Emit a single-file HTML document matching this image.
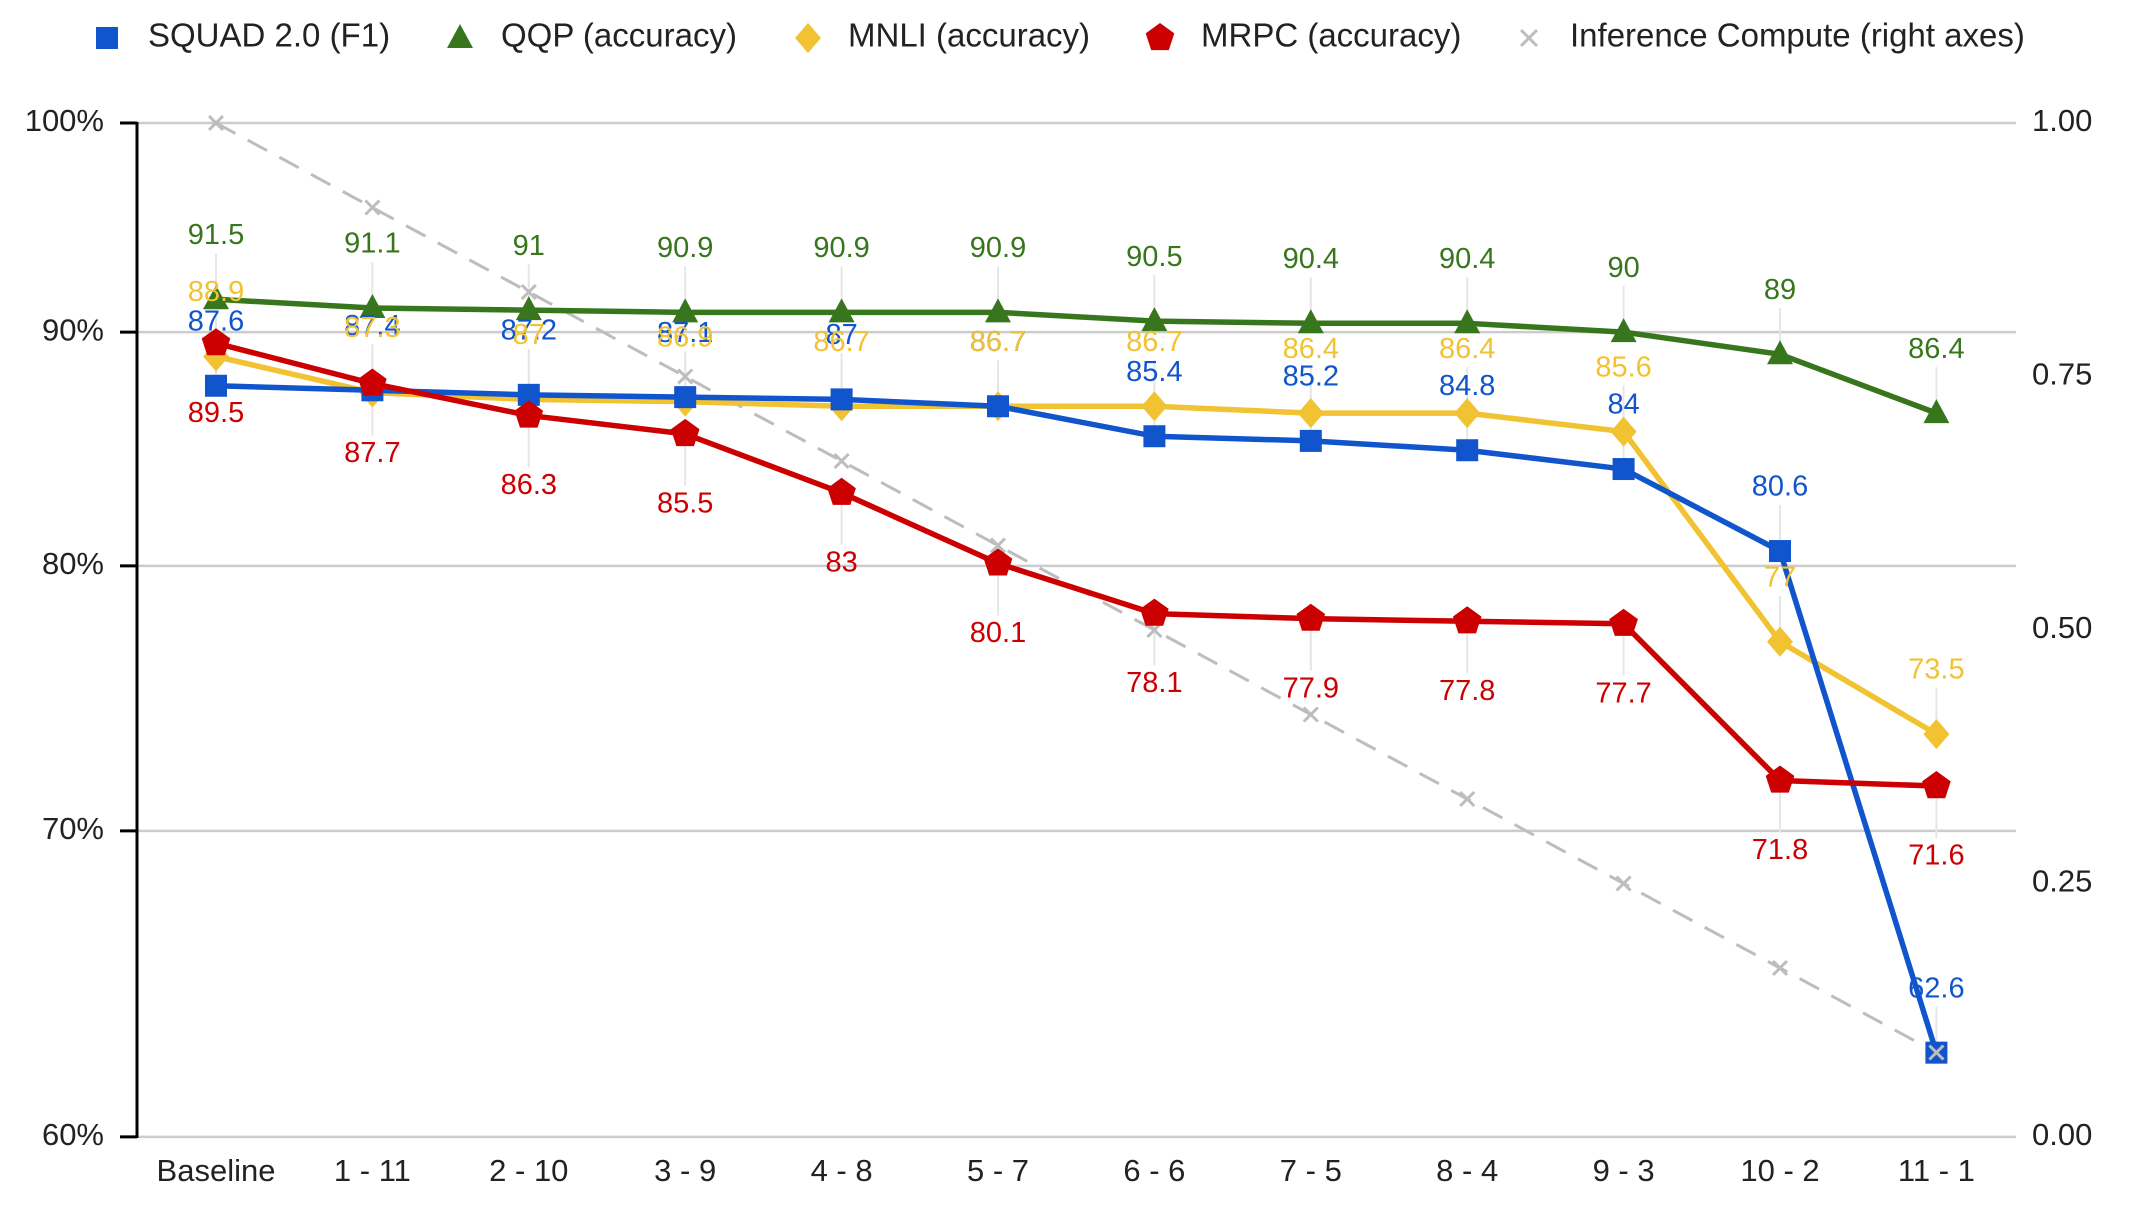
<!DOCTYPE html>
<html><head><meta charset="utf-8"><style>
html,body{margin:0;padding:0;background:#fff;}
svg{display:block;font-family:"Liberation Sans",Arial,sans-serif;}
</style></head><body>
<svg id="c" width="2134" height="1214" viewBox="0 0 2134 1214" xmlns="http://www.w3.org/2000/svg"></svg>
<script>
const S=document.getElementById('c');let h='';
const X0=216,DX=156.4;
const yL=v=>123+4570*Math.log10(100/v);
const yR=v=>1137-v*1014;
[[100,'100%'],[90,'90%'],[80,'80%'],[70,'70%'],[60,'60%']].forEach(([v,t])=>{const y=yL(v);
h+=`<line x1="137" x2="2016" y1="${y}" y2="${y}" stroke="#cccccc" stroke-width="2.5"/>`;
h+=`<line x1="120" x2="137" y1="${y}" y2="${y}" stroke="#000" stroke-width="3"/>`;
h+=`<text x="104" y="${y}" font-size="31" text-anchor="end" dominant-baseline="middle" fill="#222">${t}</text>`;});
h+=`<line x1="137" x2="137" y1="122" y2="1138" stroke="#000" stroke-width="3"/>`;
[[1,'1.00'],[.75,'0.75'],[.5,'0.50'],[.25,'0.25'],[0,'0.00']].forEach(([v,t])=>{
h+=`<text x="2032" y="${yR(v)}" font-size="31" dominant-baseline="middle" fill="#222">${t}</text>`;});
const cats=['Baseline','1 - 11','2 - 10','3 - 9','4 - 8','5 - 7','6 - 6','7 - 5','8 - 4','9 - 3','10 - 2','11 - 1'];
cats.forEach((c,i)=>{h+=`<text x="${X0+i*DX}" y="1173" font-size="31" text-anchor="middle" dominant-baseline="middle" fill="#222">${c}</text>`;});
const ser=[
 {c:'#f1c232',m:'d',d:[88.9,87.3,87.0,86.9,86.7,86.7,86.7,86.4,86.4,85.6,77,73.5],pos:-1},
 {c:'#1155cc',m:'s',d:[87.6,87.4,87.2,87.1,87,86.7,85.4,85.2,84.8,84,80.6,62.6],pos:-1},
 {c:'#38761d',m:'t',d:[91.5,91.1,91,90.9,90.9,90.9,90.5,90.4,90.4,90,89,86.4],pos:-1},
 {c:'#cc0000',m:'p',d:[89.5,87.7,86.3,85.5,83,80.1,78.1,77.9,77.8,77.7,71.8,71.6],pos:1},
];
ser.forEach(s=>s.d.forEach((v,i)=>{const x=X0+i*DX,y=yL(v);const y2=s.pos<0?y-46:y+52;
h+=`<line x1="${x}" x2="${x}" y1="${y}" y2="${y2}" stroke="#e6e6e6" stroke-width="2"/>`;}));
let cp=[];for(let i=0;i<12;i++)cp.push([X0+i*DX,yR(1-i/12)]);
h+=`<polyline points="${cp.map(p=>p.join(',')).join(' ')}" fill="none" stroke="#bdbdbd" stroke-width="3" stroke-dasharray="22,14"/>`;
cp.forEach(([x,y])=>{h+=`<path d="M${x-7},${y-7}L${x+7},${y+7}M${x+7},${y-7}L${x-7},${y+7}" stroke="#bdbdbd" stroke-width="3"/>`;});
function mk(m,x,y,c){
 if(m=='s')return `<rect x="${x-11}" y="${y-11}" width="22" height="22" fill="${c}"/>`;
 if(m=='t')return `<polygon points="${x},${y-14} ${x+13},${y+10} ${x-13},${y+10}" fill="${c}"/>`;
 if(m=='d')return `<polygon points="${x},${y-15} ${x+13},${y} ${x},${y+15} ${x-13},${y}" fill="${c}"/>`;
 if(m=='p'){let p=[];for(let k=0;k<5;k++){const a=-Math.PI/2+k*2*Math.PI/5;p.push((x+15*Math.cos(a)).toFixed(1)+','+(y+15*Math.sin(a)).toFixed(1));}return `<polygon points="${p.join(' ')}" fill="${c}"/>`;}
}
ser.forEach(s=>{const pts=s.d.map((v,i)=>[X0+i*DX,yL(v)]);
h+=`<polyline points="${pts.map(p=>p.join(',')).join(' ')}" fill="none" stroke="${s.c}" stroke-width="5.5" stroke-linejoin="round"/>`;
pts.forEach(([x,y])=>h+=mk(s.m,x,y,s.c));});
{const [x,y]=cp[11];h+=`<path d="M${x-7},${y-7}L${x+7},${y+7}M${x+7},${y-7}L${x-7},${y+7}" stroke="#bdbdbd" stroke-width="3"/>`;}
[1,0,2,3].forEach(k=>{const s=ser[k];s.d.forEach((v,i)=>{const x=X0+i*DX,y=yL(v);const ty=s.pos<0?y-63:y+71;
h+=`<text x="${x}" y="${ty}" font-size="29" text-anchor="middle" dominant-baseline="middle" fill="${s.c}">${v}</text>`;});});
const ly=38;
h+=mk('s',107,ly,'#1155cc')+`<text x="148" y="${ly}" font-size="33" dominant-baseline="middle" fill="#222">SQUAD 2.0 (F1)</text>`;
h+=mk('t',460,ly,'#38761d')+`<text x="501" y="${ly}" font-size="33" dominant-baseline="middle" fill="#222">QQP (accuracy)</text>`;
h+=mk('d',808,ly,'#f1c232')+`<text x="848" y="${ly}" font-size="33" dominant-baseline="middle" fill="#222">MNLI (accuracy)</text>`;
h+=mk('p',1160,ly,'#cc0000')+`<text x="1201" y="${ly}" font-size="33" dominant-baseline="middle" fill="#222">MRPC (accuracy)</text>`;
h+=`<path d="M1521,${ly-8}L1537,${ly+8}M1537,${ly-8}L1521,${ly+8}" stroke="#bdbdbd" stroke-width="3"/><text x="1570" y="${ly}" font-size="33" dominant-baseline="middle" fill="#222">Inference Compute (right axes)</text>`;
S.innerHTML=h;
</script>
</body></html>
